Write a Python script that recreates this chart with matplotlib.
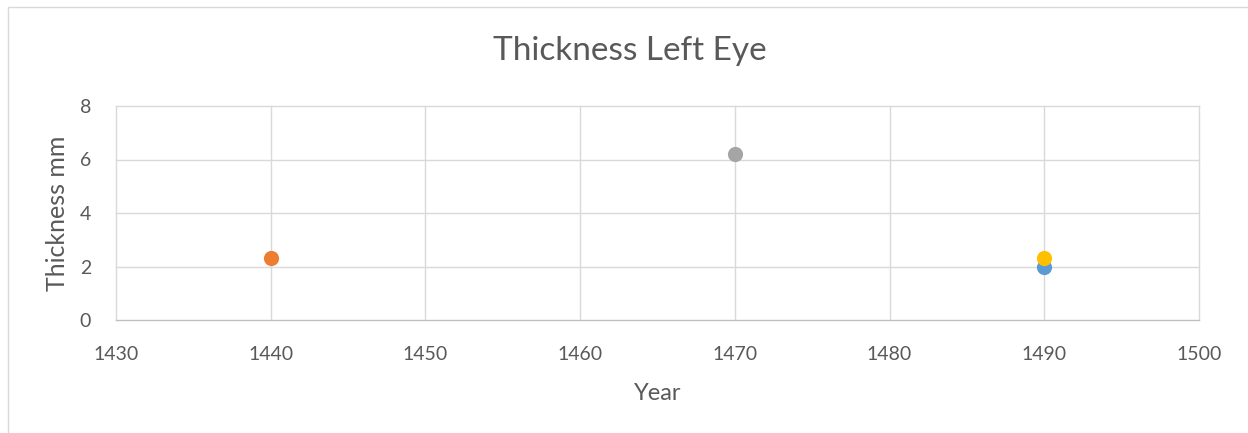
import matplotlib
matplotlib.use("Agg")
import matplotlib.pyplot as plt
from matplotlib.patches import Rectangle

plt.rcParams['font.family'] = ['Lato', 'DejaVu Sans']

series_names = ["Series1", "Series2", "Series3", "Series4"]
years = [1490, 1440, 1470, 1490]
thickness = [2.0, 2.3, 6.2, 2.3]
colors = ["#5B9BD5", "#ED7D31", "#A5A5A5", "#FFC000"]
x_ticks = [1430, 1440, 1450, 1460, 1470, 1480, 1490, 1500]
y_ticks = [0, 2, 4, 6, 8]

fig = plt.figure(figsize=(12.48, 4.33), dpi=100)
fig.patches.append(Rectangle((8/1248, -0.1), 1.2, 1 - 7/433 + 0.1, transform=fig.transFigure,
                             fill=False, edgecolor="#D9D9D9", linewidth=1))
ax = fig.add_axes([116/1248, 1 - 320/433, (1199-116)/1248, (320-106)/433])

for name, x, y, c in zip(series_names, years, thickness, colors):
    ax.scatter([x], [y], s=120, color=c, zorder=3, label=name, linewidths=0)

ax.set_xlim(1430, 1500)
ax.set_ylim(0, 8)
ax.set_xticks(x_ticks)
ax.set_yticks(y_ticks)
ax.grid(True, color="#D9D9D9", linewidth=1)
for gl in ax.get_xgridlines() + ax.get_ygridlines():
    gl.set_clip_on(False)
for s in ["top", "right", "left"]:
    ax.spines[s].set_visible(False)
ax.spines["bottom"].set_color("#BFBFBF")
ax.tick_params(length=0, labelsize=14, labelcolor="#595959")
ax.tick_params(axis='x', pad=19)
ax.tick_params(axis='y', pad=18)
ax.set_xlabel("Year", fontsize=17, color="#595959", labelpad=14)
ax.set_ylabel("Thickness mm", fontsize=18, color="#595959", labelpad=8)
fig.text(630/1248, 1 - 51/433, "Thickness Left Eye", fontsize=24, color="#595959",
         ha="center", va="center")

fig.savefig("out.png", dpi=100)
